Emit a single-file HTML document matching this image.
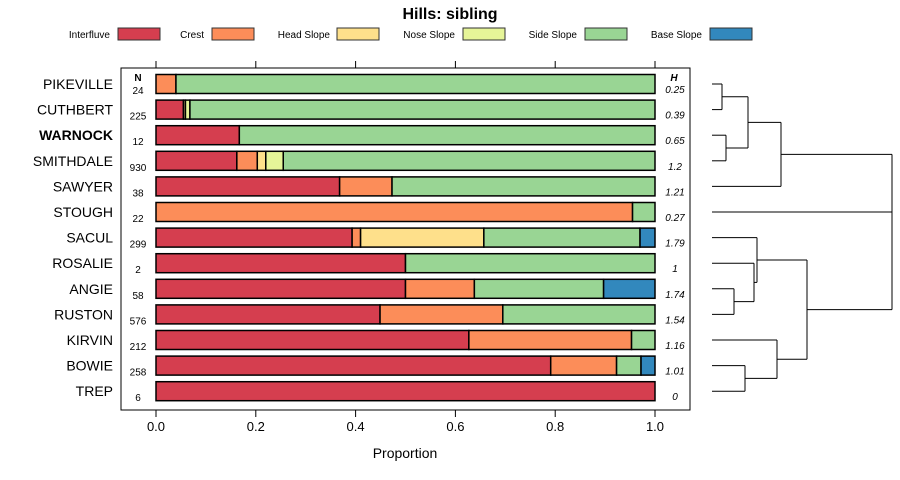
<!DOCTYPE html>
<html><head><meta charset="utf-8"><style>
body{margin:0;background:#fff;}
svg{display:block;font-family:"Liberation Sans",sans-serif;}
</style></head><body>
<svg id="chart" width="900" height="480"></svg>
<script>
const categories=["PIKEVILLE","CUTHBERT","WARNOCK","SMITHDALE","SAWYER","STOUGH","SACUL","ROSALIE","ANGIE","RUSTON","KIRVIN","BOWIE","TREP"];
const seriesNames=["Interfluve","Crest","Head Slope","Nose Slope","Side Slope","Base Slope"];
const interfluve=[0,0.055,0.167,0.162,0.368,0,0.393,0.5,0.5,0.449,0.627,0.791,1];
const crest=[0.04,0,0,0.041,0.105,0.955,0.017,0,0.138,0.246,0.326,0.132,0];
const headSlope=[0,0.004,0,0.017,0,0,0.247,0,0,0,0,0,0];
const noseSlope=[0,0.009,0,0.035,0,0,0,0,0,0,0,0,0];
const sideSlope=[0.96,0.932,0.833,0.745,0.527,0.045,0.313,0.5,0.259,0.305,0.047,0.049,0];
const baseSlope=[0,0,0,0,0,0,0.03,0,0.103,0,0,0.028,0];
const nValues=["24","225","12","930","38","22","299","2","58","576","212","258","6"];
const hValues=["0.25","0.39","0.65","1.2","1.21","0.27","1.79","1","1.74","1.54","1.16","1.01","0"];
const xTicks=[0,0.2,0.4,0.6,0.8,1.0];
const xTickLabels=["0.0","0.2","0.4","0.6","0.8","1.0"];
const colors=["#D53E4F","#FC8D59","#FEE08B","#E6F598","#99D594","#3288BD"];
const series=[interfluve,crest,headSlope,noseSlope,sideSlope,baseSlope];

const NS="http://www.w3.org/2000/svg";
const svg=document.getElementById("chart");
function mk(tag,attrs,parent){const el=document.createElementNS(NS,tag);for(const k in attrs)el.setAttribute(k,attrs[k]);(parent||svg).appendChild(el);return el;}
const x0=156,x1=655;
const xs=v=>x0+v*(x1-x0);
const rowY=i=>84+i*25.6;

let titleEl=mk("text",{x:450,y:19,"text-anchor":"middle","font-size":"16","font-weight":"bold"});
titleEl.textContent="Hills: sibling";



const legX=[[110,118],[204,212],[330,337],[455,463],[577,585],[702,710]];
seriesNames.forEach((n,i)=>{
  const g=mk("g",{});
  
  
  const tx=mk("text",{x:legX[i][0],y:38,"text-anchor":"end","font-size":"10"},g);tx.textContent=n;
  mk("rect",{x:legX[i][1],y:28,width:42,height:12,fill:colors[i],stroke:"#333","stroke-width":1},g);
});

const panel=mk("rect",{x:121,y:68,width:569,height:342,fill:"none",stroke:"#000","stroke-width":1});



xTicks.forEach((v,i)=>{
  mk("line",{x1:xs(v),x2:xs(v),y1:61,y2:68,stroke:"#000"});
  mk("line",{x1:xs(v),x2:xs(v),y1:410,y2:417,stroke:"#000"});
  const l=mk("text",{x:xs(v),y:431,"text-anchor":"middle","font-size":"13"});
  l.textContent=xTickLabels[i];
  
  
});
let xt=mk("text",{x:405,y:458,"text-anchor":"middle","font-size":"14"});
xt.textContent="Proportion";



let nh=mk("text",{x:138,y:81,"text-anchor":"middle","font-size":"10","font-weight":"bold"});nh.textContent="N";


let hh=mk("text",{x:674,y:81,"text-anchor":"middle","font-size":"10","font-weight":"bold","font-style":"italic"});hh.textContent="H";



categories.forEach((c,i)=>{
  const y=rowY(i);
  const lb=mk("text",{x:113,y:y+5,"text-anchor":"end","font-size":"14","font-weight":c==="WARNOCK"?"bold":"normal"});
  lb.textContent=c;
  
  
  const nt=mk("text",{x:138,y:y+10,"text-anchor":"middle","font-size":"10"});nt.textContent=nValues[i];
  
  
  const ht=mk("text",{x:675,y:y+9,"text-anchor":"middle","font-size":"10","font-style":"italic"});ht.textContent=hValues[i];
  
  
  let cum=0;
  series.forEach((s,j)=>{
    const v=s[i];if(v<=0)return;
    const r=mk("rect",{x:xs(cum),y:y-9.5,width:xs(cum+v)-xs(cum),height:19,fill:colors[j],stroke:"#000","stroke-width":1.5});
    
    
    cum+=v;
  });
});

const dg=mk("g",{fill:"none",stroke:"#000","stroke-width":1});


const LEAF=712;
function seg(xa,ya,xb,yb){mk("line",{x1:xa,y1:ya,x2:xb,y2:yb},dg);}
function join(xm,ya,xa,yb,xb){seg(xa,ya,xm,ya);seg(xb,yb,xm,yb);seg(xm,ya,xm,yb);return (ya+yb)/2;}
const RY=rowY;
const cA=join(722,RY(0),LEAF,RY(1),LEAF);
const cB=join(726,RY(2),LEAF,RY(3),LEAF);
const cAB=join(748,cA,722,cB,726);
const topCluster=join(781,cAB,748,RY(4),LEAF);
const cC=join(734,RY(8),LEAF,RY(9),LEAF);
const cD=join(754,RY(7),LEAF,cC,734);
const cE=join(757,RY(6),LEAF,cD,754);
const cF=join(745,RY(11),LEAF,RY(12),LEAF);
const cG=join(777,RY(10),LEAF,cF,745);
const bottomCluster=join(807,cE,757,cG,777);
join(892,topCluster,781,bottomCluster,807);
seg(LEAF,RY(5),892,RY(5));
</script>
</body></html>
